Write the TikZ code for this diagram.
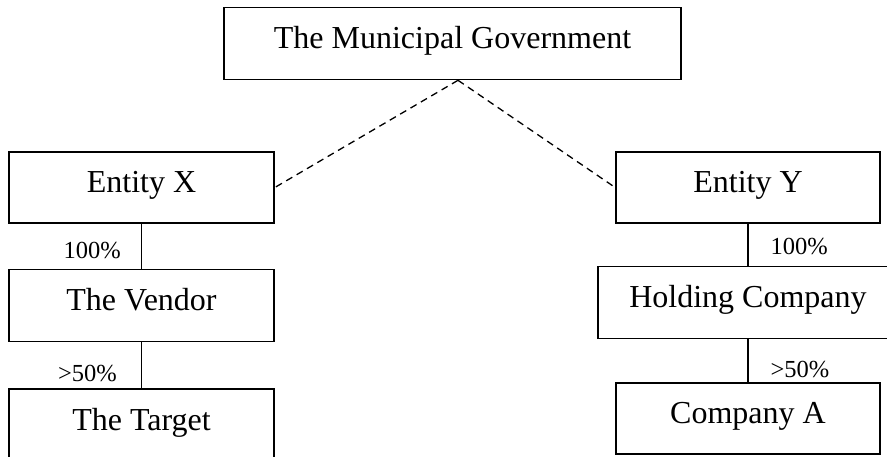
\documentclass[tikz,border=0pt]{standalone}
\usepackage{fontspec}
\setmainfont{Liberation Serif}
\usepackage{tikz}
\usetikzlibrary{positioning,calc}
\tikzset{
  orgbox/.style={
    rectangle, draw=black, line width=1.6pt, fill=white,
    minimum height=72pt, inner sep=0pt,
    text height=22pt, text depth=12pt,
    font=\fontsize{32}{38}\selectfont
  },
  orgline/.style={line width=1.3pt, draw=black},
  orgdash/.style={line width=1.3pt, draw=black, dash pattern=on 7pt off 5pt},
  pctlabel/.style={font=\fontsize{24.5}{28}\selectfont, inner sep=0pt},
}
\begin{document}
\begin{tikzpicture}[x=1pt, y=-1pt]
  \useasboundingbox (0,0) rectangle (887,456);
  \node (mg) [orgbox, minimum width=457pt] at (452.5,43.5) {The Municipal Government};
  \node (ex) [orgbox, minimum width=265pt, minimum height=71pt] at (141.5,187.5) {Entity X};
  \node (vd) [orgbox, minimum width=265pt, below=45pt of ex] {The Vendor};
  \node (tg) [orgbox, minimum width=265pt, below=46pt of vd] {The Target};
  \node (ey) [orgbox, minimum width=264pt, minimum height=71pt] at (748,187.5) {Entity Y};
  \node (hc) [orgbox, minimum width=300pt, below=42pt of ey] {Holding Company};
  \node (ca) [orgbox, minimum width=264pt, minimum height=71pt, below=43pt of hc] {Company A};
  % ownership lines
  \coordinate (apex) at ($(mg.south)+(5.5,0)$);
  \draw[orgdash] (apex) -- (ex.east);
  \draw[orgdash] (apex) -- (ey.west);
  \draw[orgline] (ex) -- node[pctlabel, pos=0.6, left=20pt] (p1) {100\%} (vd);
  \draw[orgline] (vd) -- node[pctlabel, pos=0.67, left=24pt] (p2) {>50\%} (tg);
  \draw[orgline] (ey) -- node[pctlabel, pos=0.55, right=22pt] (p3) {100\%} (hc);
  \draw[orgline] (hc) -- node[pctlabel, pos=0.7, right=22pt] (p4) {>50\%} (ca);
\end{tikzpicture}
\end{document}
